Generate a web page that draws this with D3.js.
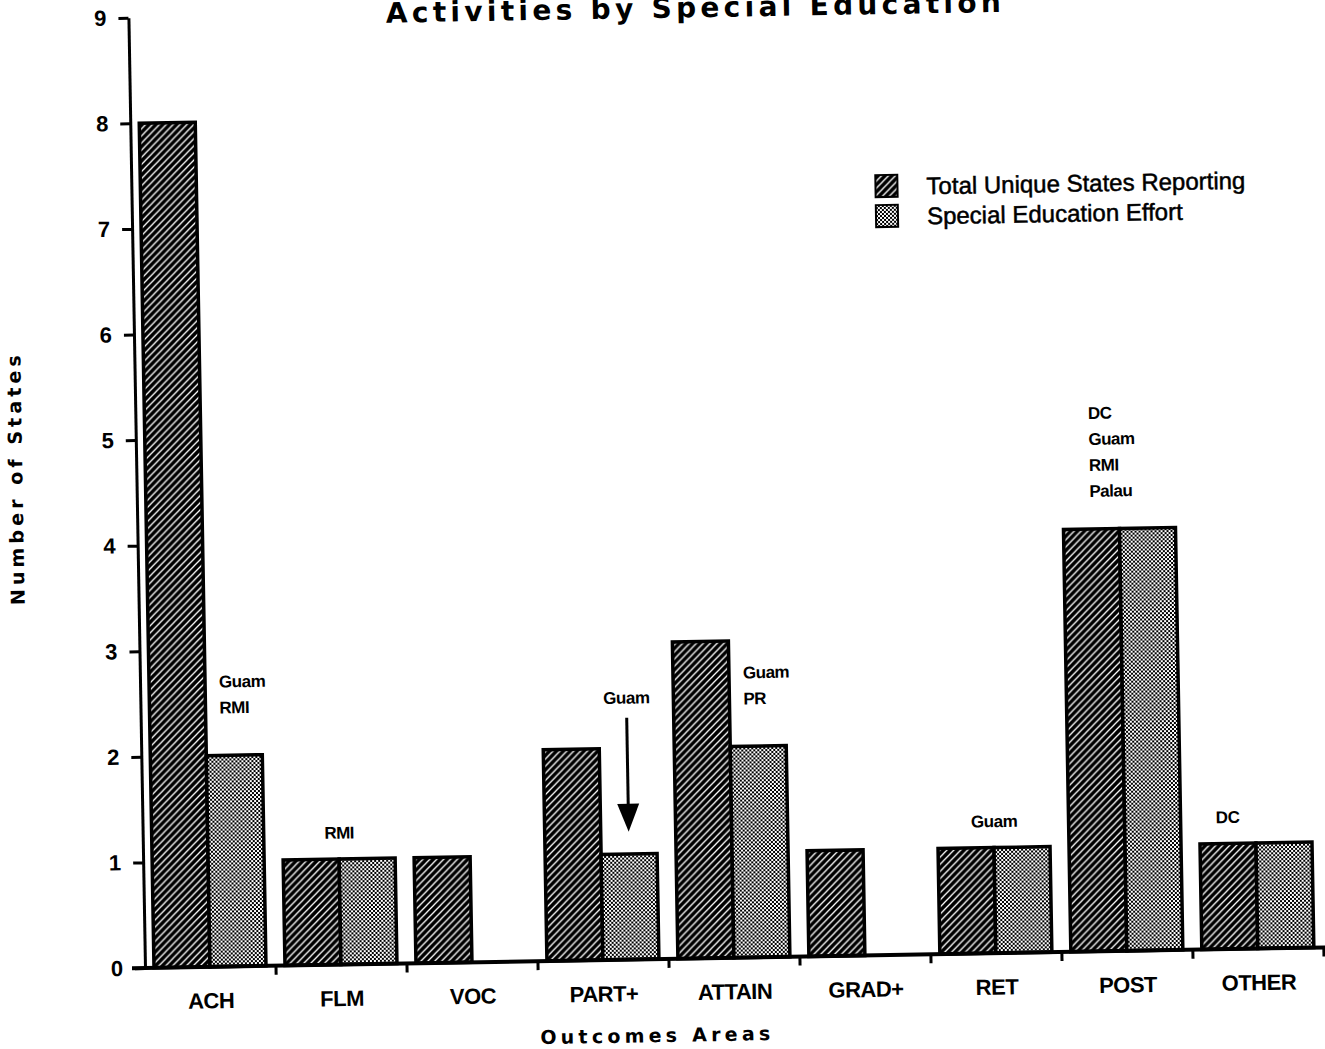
<!DOCTYPE html>
<html>
<head>
<style>
  body { margin: 0; background: #fff; }
  .lbl { font-family: "Liberation Sans", Arial, sans-serif; font-weight: bold; fill: #000; }
  .heavy { font-family: "DejaVu Sans", sans-serif; font-weight: bold; fill: #000; }
</style>
<script src="https://cdn.jsdelivr.net/npm/d3@7"></script>
</head>
<body>
<script>
const categories = ["ACH", "FLM", "VOC", "PART+", "ATTAIN", "GRAD+", "RET", "POST", "OTHER"];
const seriesNames = ["Total Unique States Reporting", "Special Education Effort"];
const totalStates = [8, 1, 1, 2, 3, 1, 1, 4, 1];
const specialEd = [2, 1, 0, 1, 2, 0, 1, 4, 1];
const yTicks = [0, 1, 2, 3, 4, 5, 6, 7, 8, 9];
// state names written over the bars; "at" is the value where the first line sits
const notes = [
  { cat: "ACH", lines: ["Guam", "RMI"], at: 2.7, anchor: "beside2" },
  { cat: "FLM", lines: ["RMI"], at: 1.25, anchor: "group" },
  { cat: "PART+", lines: ["Guam"], at: 2.48, anchor: "over2", arrowTo: 1.21 },
  { cat: "ATTAIN", lines: ["Guam", "PR"], at: 2.7, anchor: "beside2" },
  { cat: "RET", lines: ["Guam"], at: 1.25, anchor: "group" },
  { cat: "POST", lines: ["DC", "Guam", "RMI", "Palau"], at: 5.1, anchor: "groupLeft" },
  { cat: "OTHER", lines: ["DC"], at: 1.25, anchor: "over1" }
];

const W = 1325, H = 1049;
const ox = 145, oy = 968;

const x = d3.scaleBand().domain(categories).range([ox, ox + 131 * categories.length]);
const xs = d3.scaleBand().domain(seriesNames).range([9, 121]);
const y = d3.scaleLinear().domain([0, 9]).range([oy, oy - 9 * 105.6]);

const svg = d3.select("body").append("svg")
    .attr("width", W)
    .attr("height", H);

const defs = svg.append("defs");
const hatch = defs.append("pattern")
    .attr("id", "hatch")
    .attr("patternUnits", "userSpaceOnUse")
    .attr("width", 7)
    .attr("height", 7);
hatch.append("rect").attr("width", 7).attr("height", 7).attr("fill", "#000");
hatch.append("path")
    .attr("d", "M-1,1 l2,-2 M0,7 l7,-7 M6,8 l2,-2")
    .attr("stroke", "#fff")
    .attr("stroke-width", 1.3);

const dots = defs.append("pattern")
    .attr("id", "dots")
    .attr("patternUnits", "userSpaceOnUse")
    .attr("width", 4)
    .attr("height", 4);
dots.append("rect").attr("width", 4).attr("height", 4).attr("fill", "#fff");
dots.append("rect").attr("width", 2).attr("height", 2).attr("fill", "#000");
dots.append("rect").attr("x", 2).attr("y", 2).attr("width", 2).attr("height", 2).attr("fill", "#000");

const fills = { [seriesNames[0]]: "url(#hatch)", [seriesNames[1]]: "url(#dots)" };

// the scanned page sits a little crooked
const g = svg.append("g").attr("transform", "rotate(-1," + ox + "," + oy + ")");

const rows = categories.map((c, i) => ({ cat: c, vals: [totalStates[i], specialEd[i]] }));

g.selectAll("g.grp")
    .data(rows)
    .enter()
    .append("g")
    .attr("class", "grp")
    .attr("transform", (d) => "translate(" + x(d.cat) + ",0)")
    .selectAll("rect")
    .data((d) => d.vals.map((v, j) => ({ s: seriesNames[j], v: v })).filter((e) => e.v > 0))
    .enter()
    .append("rect")
    .attr("x", (d) => xs(d.s))
    .attr("y", (d) => y(d.v))
    .attr("width", xs.bandwidth())
    .attr("height", (d) => oy - y(d.v))
    .attr("fill", (d) => fills[d.s])
    .attr("stroke", "#000")
    .attr("stroke-width", 3.5);

// y axis
const yAxis = g.append("g")
    .attr("transform", "translate(" + ox + ",0)")
    .call(d3.axisLeft(y).tickValues(yTicks).tickSize(10).tickSizeOuter(0).tickPadding(12));
yAxis.select(".domain").attr("stroke", "#000").attr("stroke-width", 3);
yAxis.selectAll(".tick line").attr("stroke", "#000").attr("stroke-width", 3);
yAxis.selectAll(".tick text").attr("class", "lbl").style("font-size", "22px");

// x axis: baseline, boundary ticks, labels
g.append("line")
    .attr("x1", ox - 13).attr("x2", W + 20)
    .attr("y1", oy).attr("y2", oy)
    .attr("stroke", "#000").attr("stroke-width", 4);
g.selectAll("line.bt")
    .data(categories)
    .enter()
    .append("line")
    .attr("class", "bt")
    .attr("x1", (d) => x(d) + x.bandwidth())
    .attr("x2", (d) => x(d) + x.bandwidth())
    .attr("y1", oy)
    .attr("y2", oy + 9)
    .attr("stroke", "#000").attr("stroke-width", 3);

const xAxis = g.append("g")
    .attr("transform", "translate(0," + oy + ")")
    .call(d3.axisBottom(x).tickSize(0).tickPadding(26));
xAxis.select(".domain").remove();
xAxis.selectAll(".tick text")
    .attr("class", "lbl")
    .style("font-size", "22px")
    .style("letter-spacing", "-0.5px");

// notes
function noteX(n) {
    const g0 = x(n.cat);
    if (n.anchor === "beside2") return g0 + xs(seriesNames[1]) + 14;
    if (n.anchor === "over2") return g0 + xs(seriesNames[1]) + xs.bandwidth() / 2;
    if (n.anchor === "over1") return g0 + xs(seriesNames[0]) + xs.bandwidth() / 2;
    if (n.anchor === "groupLeft") return g0 + x.bandwidth() / 2 - 30;
    return g0 + x.bandwidth() / 2;
}
const noteAnchor = (n) => (n.anchor === "beside2" || n.anchor === "groupLeft") ? "start" : "middle";

notes.forEach((n) => {
    const t = g.append("text")
        .attr("class", "lbl")
        .attr("x", noteX(n))
        .attr("y", y(n.at) + 6)
        .attr("text-anchor", noteAnchor(n))
        .style("font-size", "17px")
        .style("letter-spacing", "-0.5px");
    n.lines.forEach((l, i) => {
        t.append("tspan")
            .attr("x", noteX(n))
            .attr("dy", i === 0 ? 0 : 26)
            .text(l);
    });
    if (n.arrowTo !== undefined) {
        const ax = noteX(n);
        const tip = y(n.arrowTo);
        g.append("line")
            .attr("x1", ax).attr("x2", ax)
            .attr("y1", y(n.at) + 20).attr("y2", tip - 20)
            .attr("stroke", "#000").attr("stroke-width", 3);
        g.append("path")
            .attr("d", "M" + (ax - 11) + "," + (tip - 28) + "L" + (ax + 11) + "," + (tip - 28) + "L" + ax + "," + tip + "Z")
            .attr("fill", "#000");
    }
});

// legend
const legend = g.append("g").attr("transform", "translate(889,188)");
seriesNames.forEach((s, i) => {
    legend.append("rect")
        .attr("x", 0).attr("y", i * 30)
        .attr("width", 22).attr("height", 22)
        .attr("fill", fills[s])
        .attr("stroke", "#000").attr("stroke-width", 2);
    legend.append("text")
        .attr("x", 51).attr("y", i * 30 + 20)
        .style("font-family", "'Liberation Sans', Arial, sans-serif")
        .style("font-size", "24px")
        .attr("stroke", "#000").attr("stroke-width", 0.5)
        .text(s);
});

// titles
g.append("text")
    .attr("class", "heavy")
    .attr("x", 710).attr("y", 27)
    .attr("text-anchor", "middle")
    .attr("textLength", 615)
    .attr("lengthAdjust", "spacing")
    .style("font-size", "28px")
    .text("Activities by Special Education");

g.append("text")
    .attr("class", "heavy")
    .attr("transform", "translate(31,478) rotate(-90)")
    .attr("text-anchor", "middle")
    .attr("textLength", 250)
    .attr("lengthAdjust", "spacing")
    .style("font-size", "19px")
    .text("Number of States");

g.append("text")
    .attr("class", "heavy")
    .attr("x", 654).attr("y", 1051)
    .attr("text-anchor", "middle")
    .attr("textLength", 230)
    .attr("lengthAdjust", "spacing")
    .style("font-size", "19px")
    .text("Outcomes Areas");
</script>
</body>
</html>
